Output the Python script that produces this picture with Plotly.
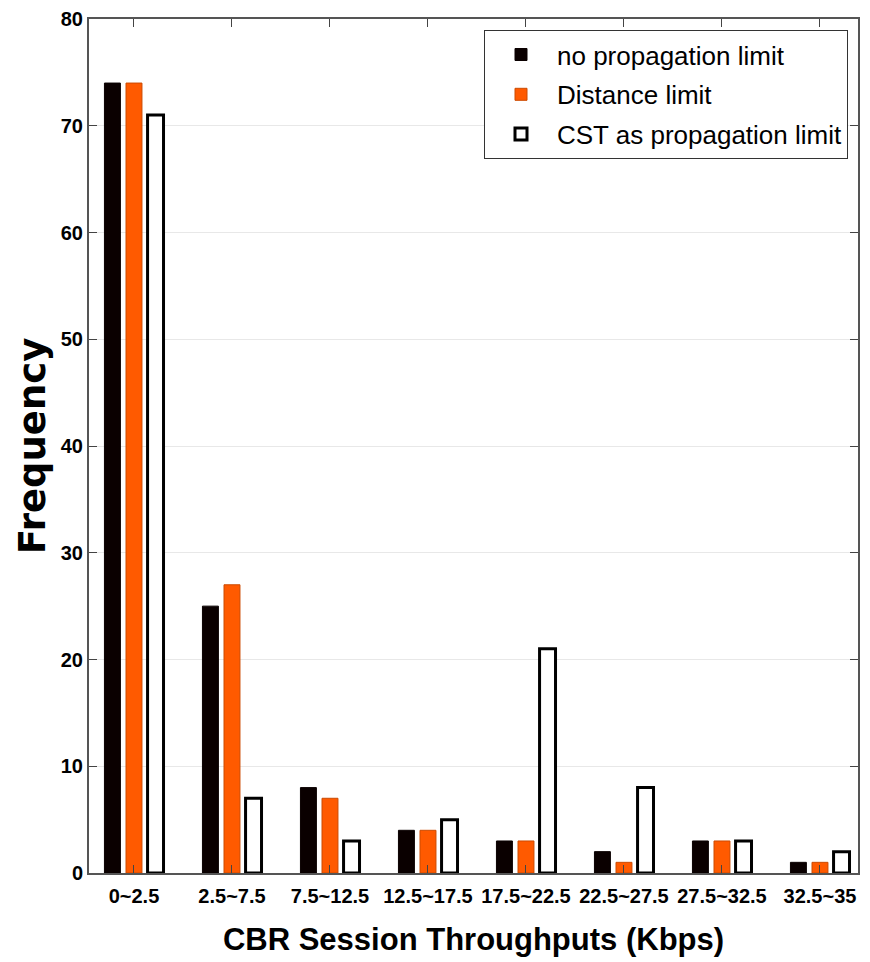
import plotly.graph_objects as go

categories = ["0~2.5", "2.5~7.5", "7.5~12.5", "12.5~17.5", "17.5~22.5",
              "22.5~27.5", "27.5~32.5", "32.5~35"]
no_limit = [74, 25, 8, 4, 3, 2, 3, 1]
distance_limit = [74, 27, 7, 4, 3, 1, 3, 1]
cst_limit = [71, 7, 3, 5, 21, 8, 3, 2]

series_names = ["no propagation limit", "Distance limit", "CST as propagation limit"]

x = list(range(len(categories)))

fig = go.Figure()
fig.add_trace(go.Bar(x=x, y=no_limit, name=series_names[0], legendgroup="a",
                     marker=dict(color="#0a0000", line=dict(color="#0a0000", width=1))))
fig.add_trace(go.Bar(x=x, y=distance_limit, name=series_names[1], legendgroup="b",
                     marker=dict(color="#ff5a00", line=dict(color="#cc4a00", width=1))))
fig.add_trace(go.Bar(x=x, y=cst_limit, name=series_names[2], legendgroup="c",
                     marker=dict(color="white", line=dict(color="black", width=3))))

tick_font = dict(family="Liberation Sans, Arial", size=20, color="black", weight="bold")

fig.update_layout(
    width=862, height=954,
    margin=dict(l=81, r=12, t=11, b=89),
    plot_bgcolor="white", paper_bgcolor="white",
    barmode="group", bargap=0.34, bargroupgap=0.26,
    showlegend=True,
    legend=dict(
        x=0.987, y=0.987, xanchor="right", yanchor="top",
        bgcolor="white", bordercolor="#333333", borderwidth=1,
        font=dict(family="Liberation Sans, Arial", size=26, color="black"),
        tracegroupgap=3, itemwidth=62,
    ),
    xaxis=dict(
        tickmode="array", tickvals=x, ticktext=categories, tickangle=0,
        range=[-0.459, 7.388],
        ticks="inside", ticklen=8, tickcolor="#444444",
        showline=True, linecolor="#555555", linewidth=2, mirror="ticks",
        showgrid=False, zeroline=False, automargin=False,
        tickfont=tick_font, ticklabelstandoff=4,
        title=dict(text="CBR Session Throughputs (Kbps)",
                   font=dict(family="Liberation Sans, Arial", size=31, color="black", weight="bold"),
                   standoff=22),
    ),
    yaxis=dict(
        range=[0, 80], dtick=10,
        ticks="inside", ticklen=8, tickcolor="#444444",
        showline=True, linecolor="#555555", linewidth=2, mirror="ticks",
        showgrid=True, gridcolor="#e8e8e8", gridwidth=1,
        zeroline=False, automargin=False,
        tickfont=tick_font,
        title=dict(text="Frequency",
                   font=dict(family="DejaVu Sans, Liberation Sans, Arial", size=37, color="black", weight="bold"),
                   standoff=4),
    ),
)

fig.write_html("out.html")
